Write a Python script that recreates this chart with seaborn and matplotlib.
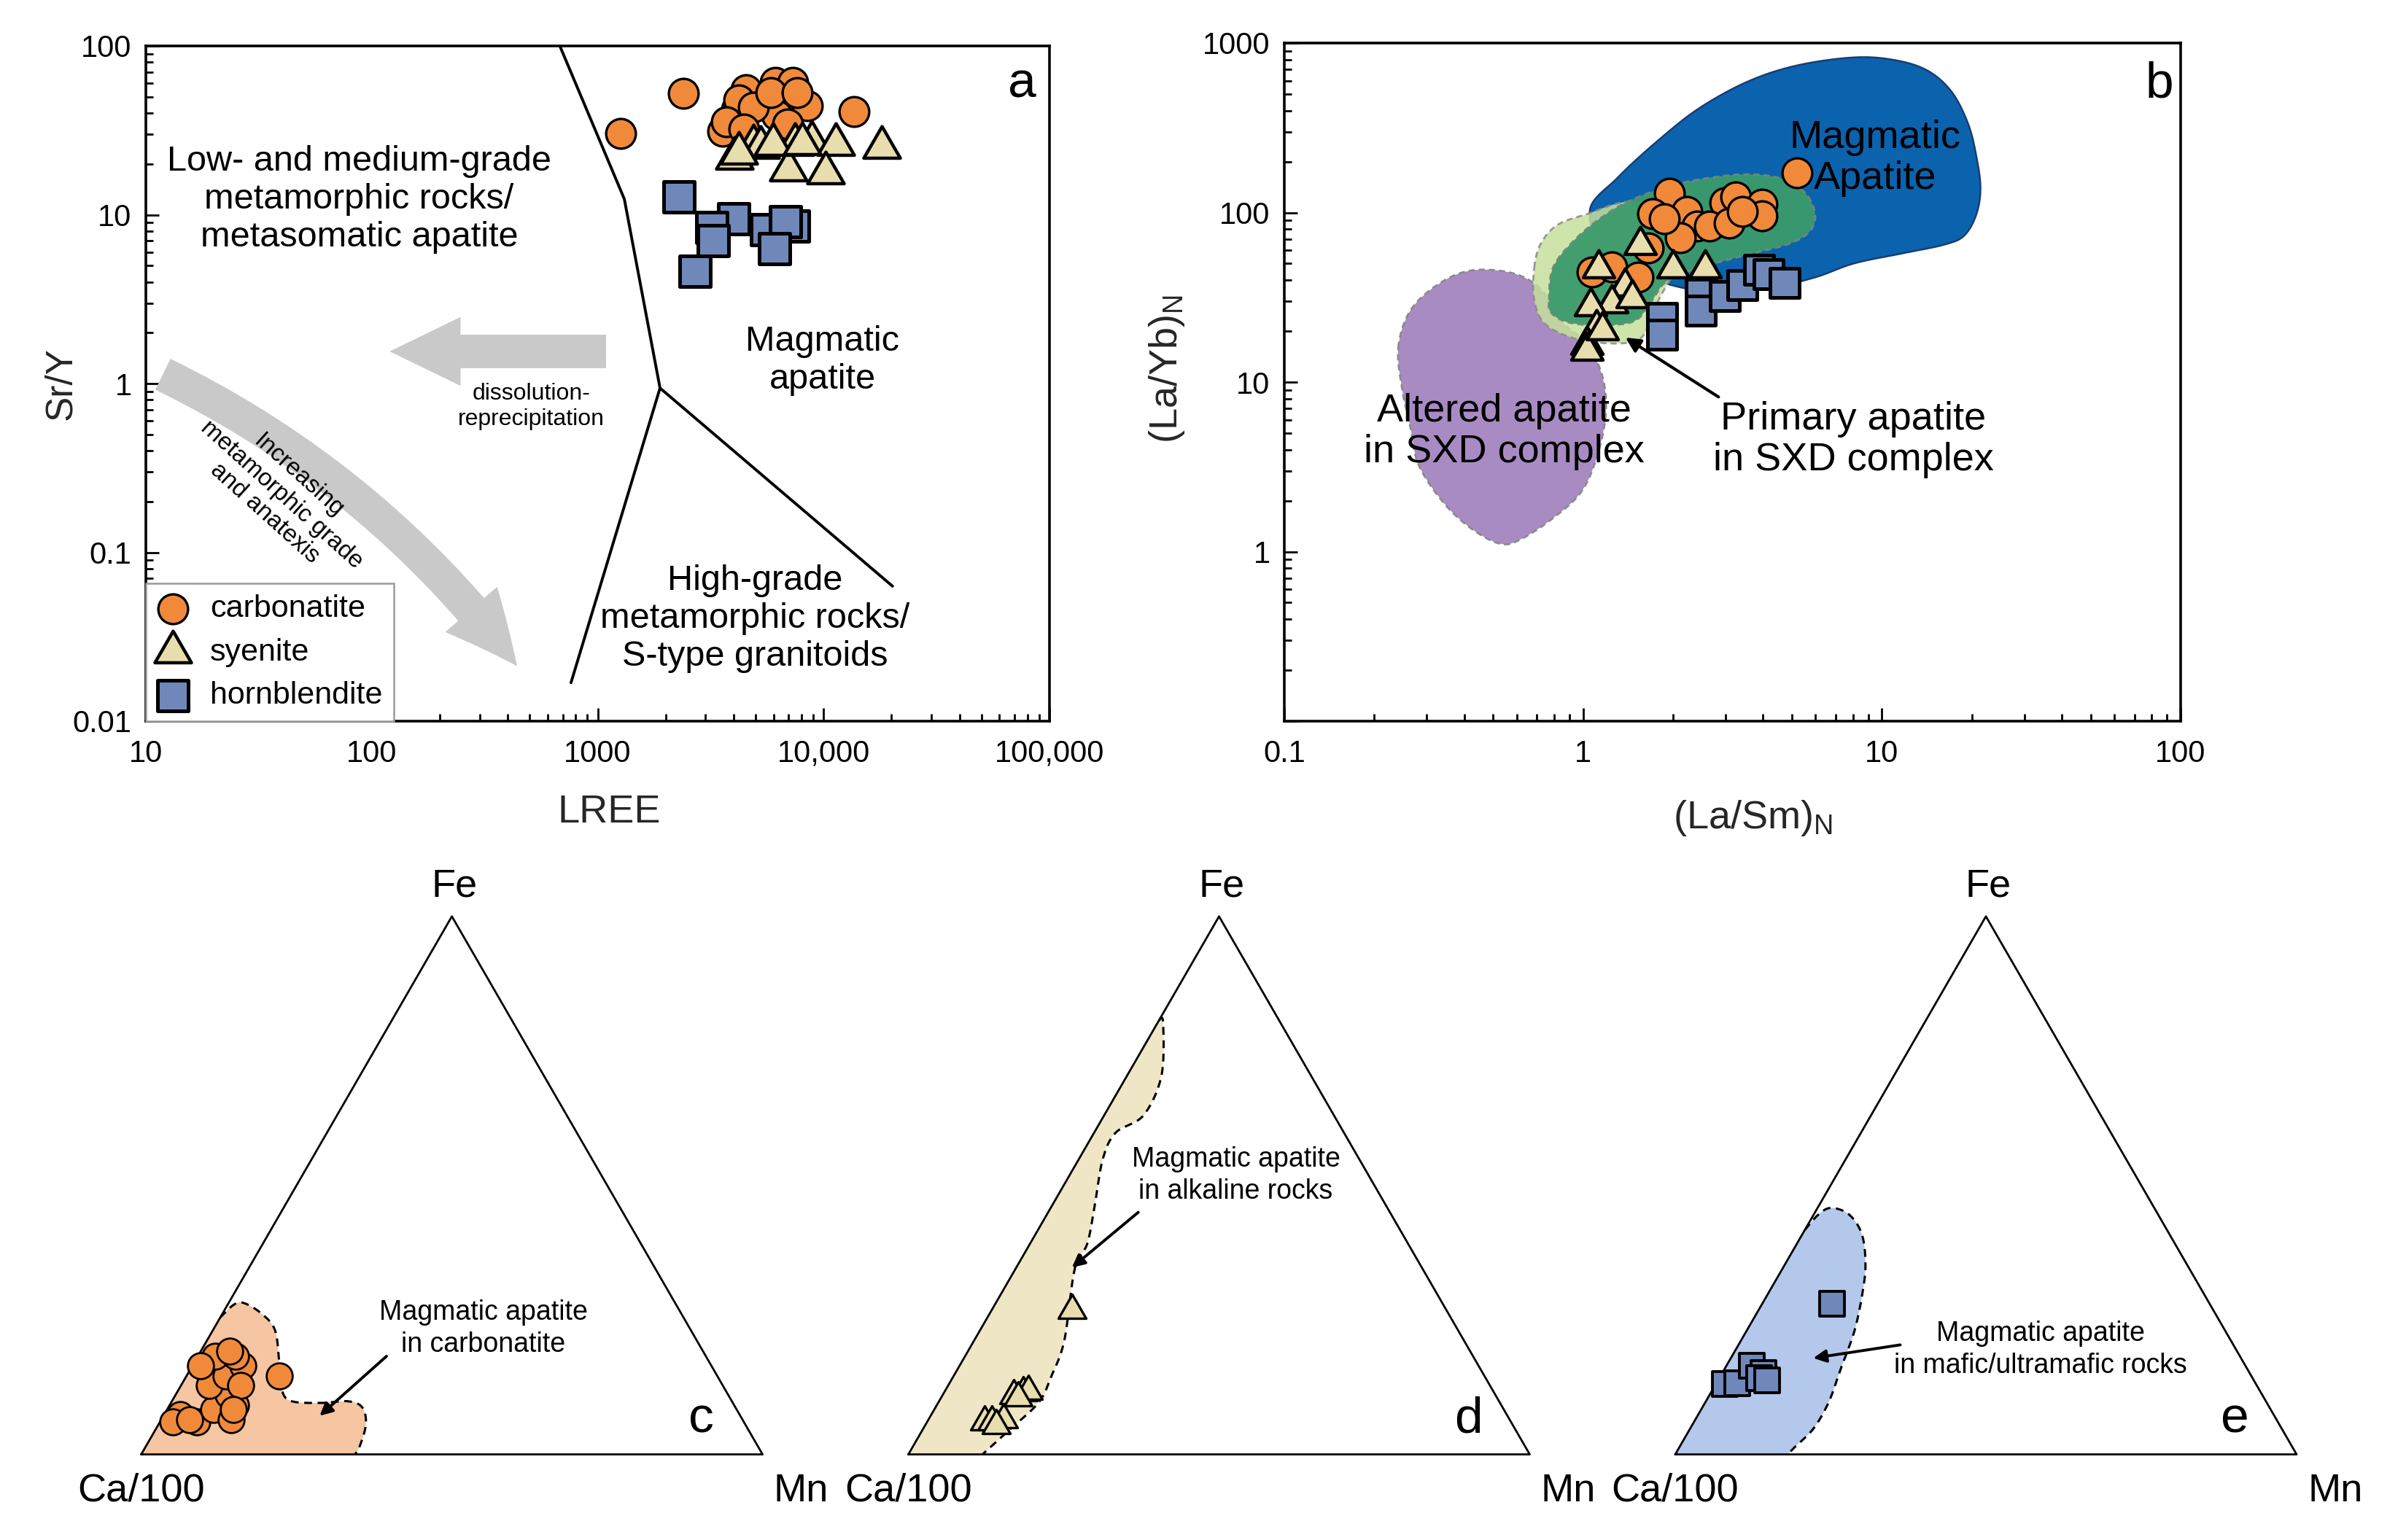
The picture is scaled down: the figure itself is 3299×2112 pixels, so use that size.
import numpy as np
import pandas as pd
import matplotlib
matplotlib.use("Agg")
import matplotlib.pyplot as plt
import seaborn as sns
from matplotlib.patches import FancyArrowPatch, ArrowStyle
from matplotlib.path import Path
from matplotlib.ticker import FixedLocator, FixedFormatter, LogLocator, NullFormatter

# ---------------- data : panel a (LREE vs Sr/Y) ----------------
a_carb_lree = [1262, 2404, 3573, 4120, 4550, 4220, 6120, 7280, 6440, 8450, 6200, 13680, 3720, 4900, 5830, 7640, 4440, 6920]
a_carb_sry = [30.3, 52.5, 31.2, 42.1, 54.9, 48.1, 60.6, 60.6, 48.1, 44.3, 38.8, 40.9, 35.7, 43.5, 53.1, 53.1, 32.3, 34.5]
a_sy_lree = [18070, 4020, 4900, 5280, 7450, 8870, 11350, 7010, 10170, 5970, 8030, 4220]
a_sy_sry = [25.2, 21.7, 25.6, 25.2, 26.0, 26.9, 26.0, 18.4, 17.7, 26.0, 26.4, 23.2]
a_hb_lree = [2290, 4000, 3210, 3250, 2700, 5610, 7360, 6760, 6080]
a_hb_sry = [12.7, 9.46, 8.41, 7.02, 4.63, 8.15, 8.57, 9.14, 6.31]
# discrimination boundaries (LREE, Sr/Y)
a_line1_x = [680, 1312, 1888, 762]
a_line1_y = [100, 12.4, 0.94, 0.0169]
a_line2_x = [1888, 20200]
a_line2_y = [0.94, 0.063]
a_xticks = [10, 100, 1000, 10000, 100000]
a_xticklabels = ["10", "100", "1000", "10,000", "100,000"]
a_yticks = [0.01, 0.1, 1, 10, 100]
a_yticklabels = ["0.01", "0.1", "1", "10", "100"]

# ---------------- data : panel b ((La/Sm)N vs (La/Yb)N) ----------------
b_carb_lasm = [5.21, 1.94, 1.71, 2.23, 2.98, 3.25, 3.97, 3.97, 2.41, 2.12, 2.65, 3.09, 3.41, 1.87, 1.07, 1.25, 1.53, 1.65]
b_carb_layb = [172, 130, 98.6, 102, 114, 124, 112, 95.3, 83.5, 70.8, 83.5, 86.3, 102, 92.3, 44.7, 47.6, 41.8, 62.1]
b_sy_lasm = [1.55, 1.13, 2.00, 2.56, 1.38, 1.25, 1.06, 1.46, 1.11, 1.03, 1.03, 1.16]
b_sy_layb = [64.1, 46.9, 46.9, 46.9, 36.6, 29.1, 28.1, 31.1, 20.9, 16.6, 15.3, 20.2]
b_hb_lasm = [1.84, 1.84, 2.47, 2.47, 2.98, 3.41, 3.88, 4.17, 4.73]
b_hb_layb = [23.9, 19.0, 33.2, 26.4, 32.1, 37.3, 46.1, 43.2, 38.5]
b_xticks = [0.1, 1, 10, 100]
b_xticklabels = ["0.1", "1", "10", "100"]
b_yticks = [0.1, 1, 10, 100, 1000]
b_yticklabels = ["", "1", "10", "100", "1000"]
# field outlines, log10 coordinates (logx, logy)
b_blue_field = [(0.022, 2.004), (0.117, 2.208), (0.253, 2.428), (0.390, 2.617), (0.553, 2.774), (0.717, 2.868),
                (0.907, 2.915), (1.044, 2.899), (1.153, 2.837), (1.234, 2.711), (1.289, 2.522), (1.316, 2.334),
                (1.330, 2.145), (1.316, 1.988), (1.275, 1.863), (1.207, 1.810), (1.071, 1.760), (0.907, 1.700),
                (0.771, 1.615), (0.600, 1.55), (0.35, 1.55), (0.10, 1.72)]
b_lgreen_field = [(-0.1635, 1.6742), (-0.1417, 1.8156), (-0.0872, 1.9255), (0.0082, 1.9884), (0.1717, 2.0669),
                  (0.3896, 1.9884), (0.2534, 1.4857), (0.2262, 1.3600), (0.1853, 1.2501), (0.0899, 1.2281),
                  (-0.0327, 1.2595), (-0.1281, 1.3443), (-0.1635, 1.4857)]
b_dgreen_field = [(-0.1144, 1.4857), (-0.1008, 1.6742), (-0.0327, 1.8313), (0.0627, 1.9727), (0.1717, 2.0826),
                  (0.3351, 2.1769), (0.5259, 2.2240), (0.6621, 2.2020), (0.7439, 2.1140), (0.7766, 1.9884),
                  (0.7575, 1.8878), (0.6894, 1.8156), (0.5531, 1.7527), (0.3896, 1.6742), (0.2807, 1.5957),
                  (0.2262, 1.4700), (0.1717, 1.3600), (0.0627, 1.3349), (-0.0463, 1.3506), (-0.1063, 1.4072)]
b_purple_field = [(-0.6185, 1.2030), (-0.5777, 1.4229), (-0.4823, 1.5800), (-0.3733, 1.6585), (-0.2371, 1.6428),
                  (-0.1417, 1.5485), (-0.0736, 1.3600), (0.0082, 1.2344), (0.0627, 1.0458), (0.0763, 0.8260),
                  (0.0490, 0.5746), (-0.0054, 0.3547), (-0.1008, 0.1976), (-0.2098, 0.0719), (-0.2779, 0.0468),
                  (-0.3733, 0.1348), (-0.4687, 0.2919), (-0.5504, 0.5118), (-0.5777, 0.7318), (-0.6049, 0.9516)]

# ---------------- data : ternary panels (Fe, Mn fractions; Ca/100 = rest) ----------------
c_carb_fe = [0.074, 0.0604, 0.0604, 0.083, 0.0649, 0.092, 0.1102, 0.1282, 0.1462, 0.1824, 0.1644, 0.1644, 0.1824, 0.1915, 0.1462, 0.0649, 0.1282, 0.083]
c_carb_mn = [0.0253, 0.0204, 0.0595, 0.0755, 0.112, 0.1063, 0.0854, 0.0452, 0.0635, 0.0278, 0.0133, 0.0818, 0.0611, 0.0468, 0.1496, 0.0455, 0.0959, 0.1068]
d_sy_fe = [0.2676, 0.1144, 0.1167, 0.1099, 0.0648, 0.0603, 0.0603, 0.0535, 0.1053]
d_sy_mn = [0.1299, 0.1276, 0.1343, 0.1143, 0.1212, 0.0922, 0.104, 0.1152, 0.1244]
e_hb_fe = [0.2796, 0.1305, 0.1327, 0.1644, 0.1508, 0.1418, 0.1373]
e_hb_mn = [0.1122, 0.0146, 0.0331, 0.0407, 0.067, 0.0637, 0.0796]
c_field_fe = [0.2546, 0.2777, 0.2818, 0.2637, 0.2322, 0.1733, 0.1192, 0.0988, 0.0957, 0.0988, 0.0875, 0.056, 0.0153, 0.0]
c_field_mn = [0.0, 0.0095, 0.0231, 0.0596, 0.0988, 0.1354, 0.167, 0.1929, 0.2414, 0.2829, 0.312, 0.3336, 0.3441, 0.344]
d_field_fe = [0.8071, 0.803, 0.7044, 0.6305, 0.5977, 0.5484, 0.4663, 0.3924, 0.3432, 0.2118, 0.1461, 0.0969, 0.0476, 0.0]
d_field_mn = [0.0, 0.0084, 0.0552, 0.0634, 0.0345, 0.0386, 0.0673, 0.0919, 0.0959, 0.1451, 0.1574, 0.1615, 0.1408, 0.1193]
e_field_fe = [0.4171, 0.4458, 0.4581, 0.4458, 0.4089, 0.3514, 0.2939, 0.2282, 0.1626, 0.0969, 0.0476, 0.0148, 0.0]
e_field_mn = [0.0, 0.0076, 0.022, 0.0569, 0.096, 0.1305, 0.1535, 0.174, 0.1862, 0.1985, 0.1984, 0.186, 0.1811]

legend_labels = ["carbonatite", "syenite", "hornblendite"]

# ---------------- style ----------------
sns.set_theme(style="white")
plt.rcParams["font.family"] = ["Liberation Sans", "DejaVu Sans"]
plt.rcParams["mathtext.fontset"] = "custom"
plt.rcParams["mathtext.rm"] = "Liberation Sans"
plt.rcParams["mathtext.it"] = "Liberation Sans:italic"
plt.rcParams["axes.edgecolor"] = "black"
plt.rcParams["axes.linewidth"] = 1.3
plt.rcParams["text.color"] = "black"

ORANGE = "#f08a3a"
BEIGE = "#e8ddad"
SLATE = "#7088b9"
GREY_ARROW = "#c9c9c9"
TRI = Path([(0, 0.5774), (-0.5, -0.2887), (0.5, -0.2887), (0, 0.5774)], [1, 2, 2, 79])

W, H = 3299, 2112
fig = plt.figure(figsize=(W / 200, H / 200), dpi=200)


def catmull(pts, closed=True, n=24):
    P = np.asarray(pts, dtype=float)
    N = len(P)
    segs = []
    rng = range(N) if closed else range(N - 1)
    for i in rng:
        if closed:
            p0, p1, p2, p3 = P[i - 1], P[i], P[(i + 1) % N], P[(i + 2) % N]
        else:
            p0 = P[max(i - 1, 0)]
            p1 = P[i]
            p2 = P[i + 1]
            p3 = P[min(i + 2, N - 1)]
        t = np.linspace(0, 1, n, endpoint=False)[:, None]
        segs.append(0.5 * (2 * p1 + (-p0 + p2) * t + (2 * p0 - 5 * p1 + 4 * p2 - p3) * t ** 2
                           + (-p0 + 3 * p1 - 3 * p2 + p3) * t ** 3))
    if not closed:
        segs.append(P[-1:])
    return np.vstack(segs)


def style_log_axes(ax, xt, xtl, yt, ytl):
    ax.set_xscale("log")
    ax.set_yscale("log")
    ax.xaxis.set_major_locator(FixedLocator(xt))
    ax.xaxis.set_major_formatter(FixedFormatter(xtl))
    ax.yaxis.set_major_locator(FixedLocator(yt))
    ax.yaxis.set_major_formatter(FixedFormatter(ytl))
    ax.xaxis.set_minor_locator(LogLocator(base=10, subs=np.arange(2, 10), numticks=20))
    ax.yaxis.set_minor_locator(LogLocator(base=10, subs=np.arange(2, 10), numticks=20))
    ax.xaxis.set_minor_formatter(NullFormatter())
    ax.yaxis.set_minor_formatter(NullFormatter())
    ax.tick_params(which="both", direction="in", bottom=True, left=True, top=False, right=False,
                   colors="black", width=1.0)
    ax.tick_params(which="major", length=6.5)
    ax.tick_params(which="minor", length=3.5)
    ax.tick_params(axis="x", which="major", labelsize=15, pad=9)
    ax.tick_params(axis="y", which="major", labelsize=15, pad=7)
    for s in ax.spines.values():
        s.set_linewidth(1.3)
        s.set_color("black")


# ======================= panel a =======================
axA = fig.add_axes([200 / W, 1 - 989 / H, 1239 / W, 926 / H])
style_log_axes(axA, a_xticks, a_xticklabels, a_yticks, a_yticklabels)
axA.set_xlim(10, 1e5)
axA.set_ylim(0.01, 100)

axA.plot(a_line1_x, a_line1_y, color="black", lw=1.4, zorder=2)
axA.plot(a_line2_x, a_line2_y, color="black", lw=1.4, zorder=2)

# grey arrows
arr1 = FancyArrowPatch((1089, 1.55), (120, 1.55), transform=axA.transData,
                       arrowstyle=ArrowStyle.Simple(head_length=35, head_width=34, tail_width=16.5),
                       mutation_scale=1, color=GREY_ARROW, lw=0, shrinkA=0, shrinkB=0, zorder=1)
axA.add_patch(arr1)
arr2 = FancyArrowPatch((11.9, 1.135), (440, 0.0212), transform=axA.transData,
                       connectionstyle="arc3,rad=-0.12",
                       arrowstyle=ArrowStyle.Simple(head_length=36, head_width=34, tail_width=17),
                       mutation_scale=1, color=GREY_ARROW, lw=0, shrinkA=0, shrinkB=0, zorder=1)
axA.add_patch(arr2)

sns.scatterplot(x=a_carb_lree, y=a_carb_sry, ax=axA, marker="o", s=215, color=ORANGE,
                edgecolor="black", linewidth=1.2, label=legend_labels[0], zorder=3)
sns.scatterplot(x=a_sy_lree, y=a_sy_sry, ax=axA, marker=TRI, s=433, color=BEIGE,
                edgecolor="black", linewidth=1.6, label=legend_labels[1], zorder=4)
sns.scatterplot(x=a_hb_lree, y=a_hb_sry, ax=axA, marker="s", s=225, color=SLATE,
                edgecolor="black", linewidth=1.8, label=legend_labels[2], zorder=5)

leg = axA.legend(loc="lower left", bbox_to_anchor=(0, 0), borderaxespad=0, frameon=True, fancybox=False,
                 framealpha=1, edgecolor="#9a9a9a", fontsize=15.5, handlelength=1.0, handletextpad=0.7,
                 labelspacing=0.45, borderpad=0.35, scatterpoints=1)
leg.get_frame().set_linewidth(0.9)

axA.text(87.9, 12.3, "Low- and medium-grade\nmetamorphic rocks/\nmetasomatic apatite",
         ha="center", va="center", fontsize=17.5, linespacing=1.2)
axA.text(9890, 1.37, "Magmatic\napatite", ha="center", va="center", fontsize=17.5, linespacing=1.2)
axA.text(4970, 0.0406, "High-grade\nmetamorphic rocks/\nS-type granitoids", ha="center", va="center",
         fontsize=17.5, linespacing=1.2)
axA.text(507, 0.731, "dissolution-\nreprecipitation", ha="center", va="center", fontsize=11.5,
         linespacing=1.25)
axA.text(40, 0.22, "Increasing\nmetamorphic grade\nand anatexis", ha="center", va="center",
         rotation=-42, rotation_mode="anchor", fontsize=12, linespacing=1.15, zorder=3)
axA.text(75500, 59.2, "a", ha="center", va="center", fontsize=25)

axA.set_xlabel("LREE", fontsize=19.5)
axA.set_ylabel("Sr/Y", fontsize=18.5)
axA.xaxis.set_label_coords(0.5125, -0.108)
axA.yaxis.set_label_coords(-0.074, 0.5)

# ======================= panel b =======================
axB = fig.add_axes([1761 / W, 1 - 989 / H, 1229 / W, 930 / H])
style_log_axes(axB, b_xticks, b_xticklabels, b_yticks, b_yticklabels)
axB.set_xlim(0.1, 100)
axB.set_ylim(0.1, 1000)


def fill_log(ax, pts, **kw):
    c = catmull(pts, closed=True)
    ax.fill(10 ** c[:, 0], 10 ** c[:, 1], **kw)


fill_log(axB, b_blue_field, facecolor="#0b63ae", edgecolor="#173e72", lw=0.9, zorder=1)
fill_log(axB, b_purple_field, facecolor="#a98bc3", edgecolor="#8a8a8a", lw=1.0, ls=(0, (3, 2)), zorder=1.2)
fill_log(axB, b_lgreen_field, facecolor="#c6e09c", edgecolor="#8a8a8a", lw=1.0, ls=(0, (3, 2)),
         alpha=0.85, zorder=1.4)
fill_log(axB, b_dgreen_field, facecolor="#3c9a6c", edgecolor="#6f8a78", lw=1.0, ls=(0, (3, 2)),
         alpha=0.95, zorder=1.6)

sns.scatterplot(x=b_carb_lasm, y=b_carb_layb, ax=axB, marker="o", s=215, color=ORANGE,
                edgecolor="black", linewidth=1.2, legend=False, zorder=3)
sns.scatterplot(x=b_sy_lasm, y=b_sy_layb, ax=axB, marker=TRI, s=320, color=BEIGE,
                edgecolor="black", linewidth=1.6, legend=False, zorder=4)
sns.scatterplot(x=b_hb_lasm, y=b_hb_layb, ax=axB, marker="s", s=207, color=SLATE,
                edgecolor="black", linewidth=1.8, legend=False, zorder=5)

axB.text(9.49, 210, "Magmatic\nApatite", ha="center", va="center", fontsize=19.5, linespacing=1.15, zorder=6)
axB.text(0.543, 5.08, "Altered apatite\nin SXD complex", ha="center", va="center", fontsize=19.5,
         linespacing=1.15, zorder=6)
axB.text(8.04, 4.57, "Primary apatite\nin SXD complex", ha="center", va="center", fontsize=19.5,
         linespacing=1.15, zorder=6)
axB.annotate("", xy=(1.386, 18.3), xytext=(2.84, 8.17),
             arrowprops=dict(arrowstyle="-|>", lw=1.5, color="black", mutation_scale=15, shrinkA=0, shrinkB=0),
             zorder=6)
axB.text(84.7, 570, "b", ha="center", va="center", fontsize=25)

axB.set_xlabel("(La/Sm)$_\\mathrm{N}$", fontsize=19.5)
axB.set_ylabel("(La/Yb)$_\\mathrm{N}$", fontsize=19.5)
axB.xaxis.set_label_coords(0.523, -0.114)
axB.yaxis.set_label_coords(-0.109, 0.52)

# ======================= ternary panels =======================
S3 = np.sqrt(3) / 2


def tern(fe, mn):
    fe = np.asarray(fe, dtype=float)
    mn = np.asarray(mn, dtype=float)
    return mn + fe / 2, fe * S3


tw = 852 / W
th = 852 * S3 / H
tern_lefts = [193.6 / W, 1245.5 / W, 2297 / W]
tern_axes = []
for lft in tern_lefts:
    ax = fig.add_axes([lft, 1 - 1994.6 / H, tw, th])
    ax.set_xlim(0, 1)
    ax.set_ylim(0, S3)
    ax.axis("off")
    tern_axes.append(ax)


def draw_field(ax, fe, mn, color):
    x, y = tern(fe, mn)
    c = catmull(np.column_stack([x, y]), closed=False, n=16)
    poly = np.vstack([c, [[0.0, 0.0]]])
    ax.fill(poly[:, 0], poly[:, 1], facecolor=color, edgecolor="none", zorder=1)
    ax.plot(c[:, 0], c[:, 1], color="black", lw=1.1, ls=(0, (3.5, 2.5)), zorder=2)


def frame_tern(ax, letter):
    ax.plot([0, 1, 0.5, 0], [0, 0, S3, 0], color="black", lw=1.0, zorder=3, clip_on=False)
    ax.text(0.504, 0.914, "Fe", ha="center", va="center", fontsize=19.5, clip_on=False)
    ax.text(0.0, -0.059, "Ca/100", ha="center", va="center", fontsize=19.5, clip_on=False)
    ax.text(1.062, -0.059, "Mn", ha="center", va="center", fontsize=19.5, clip_on=False)
    ax.text(0.901, 0.057, letter, ha="center", va="center", fontsize=25)


axC, axD, axE = tern_axes

# c : carbonatite
draw_field(axC, c_field_fe, c_field_mn, "#f6c5a1")
frame_tern(axC, "c")
cx, cy = tern(c_carb_fe, c_carb_mn)
sns.scatterplot(x=cx, y=cy, ax=axC, marker="o", s=165, color=ORANGE, edgecolor="black",
                linewidth=1.0, legend=False, zorder=4, clip_on=False)
axC.text(0.5507, 0.2029, "Magmatic apatite\nin carbonatite", ha="center", va="center", fontsize=13.5,
         linespacing=1.3)
axC.annotate("", xy=(0.2872, 0.0621), xytext=(0.3948, 0.158),
             arrowprops=dict(arrowstyle="-|>", lw=1.4, color="black", mutation_scale=13, shrinkA=0, shrinkB=0))

# d : syenite
draw_field(axD, d_field_fe, d_field_mn, "#efe6c6")
frame_tern(axD, "d")
dx, dy = tern(d_sy_fe, d_sy_mn)
sns.scatterplot(x=dx, y=dy, ax=axD, marker=TRI, s=250, color=BEIGE, edgecolor="black",
                linewidth=1.2, legend=False, zorder=4, clip_on=False)
axD.text(0.527, 0.4492, "Magmatic apatite\nin alkaline rocks", ha="center", va="center", fontsize=13.5,
         linespacing=1.3)
axD.annotate("", xy=(0.2633, 0.3008), xytext=(0.37, 0.3897),
             arrowprops=dict(arrowstyle="-|>", lw=1.4, color="black", mutation_scale=13, shrinkA=0, shrinkB=0))

# e : hornblendite
draw_field(axE, e_field_fe, e_field_mn, "#b4c8eb")
frame_tern(axE, "e")
ex, ey = tern(e_hb_fe, e_hb_mn)
sns.scatterplot(x=ex, y=ey, ax=axE, marker="s", s=150, color=SLATE, edgecolor="black",
                linewidth=1.4, legend=False, zorder=4, clip_on=False)
axE.text(0.588, 0.1685, "Magmatic apatite\nin mafic/ultramafic rocks", ha="center", va="center",
         fontsize=13.5, linespacing=1.3)
axE.annotate("", xy=(0.2222, 0.155), xytext=(0.3621, 0.1763),
             arrowprops=dict(arrowstyle="-|>", lw=1.4, color="black", mutation_scale=13, shrinkA=0, shrinkB=0))

fig.savefig("out.png", dpi=200, facecolor="white")
